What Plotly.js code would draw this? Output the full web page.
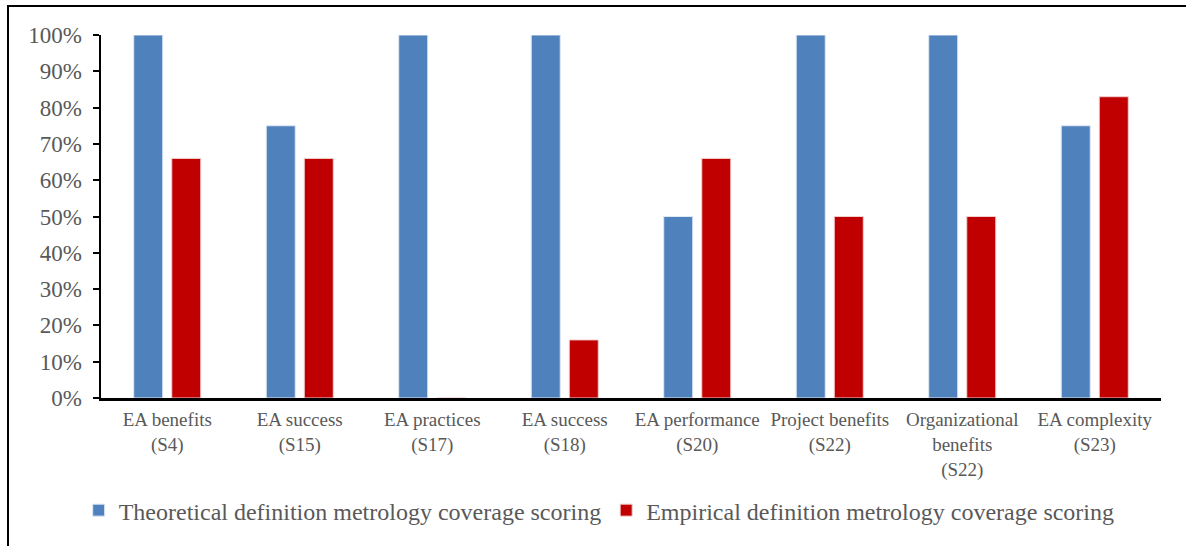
<!DOCTYPE html>
<html>
<head>
<meta charset="utf-8">
<script src="https://cdn.plot.ly/plotly-3.0.1.min.js"></script>
<style>
html,body{margin:0;padding:0;background:#fff;overflow:hidden;}
#frame{position:absolute;left:7px;top:5px;width:1200px;height:600px;border-left:2px solid #000;border-top:2px solid #000;pointer-events:none;z-index:5;}
#chart{position:absolute;left:0;top:0;width:1186px;height:546px;}
</style>
</head>
<body>
<div id="chart"></div>
<div id="frame"></div>
<script>
const categories = [
  "EA benefits<br>(S4)",
  "EA success<br>(S15)",
  "EA practices<br>(S17)",
  "EA success<br>(S18)",
  "EA performance<br>(S20)",
  "Project benefits<br>(S22)",
  "Organizational<br>benefits<br>(S22)",
  "EA complexity<br>(S23)"
];
const theoretical = [1.00, 0.75, 1.00, 1.00, 0.50, 1.00, 1.00, 0.75];
const empirical = [0.66, 0.66, 0, 0.16, 0.66, 0.50, 0.50, 0.83];
const seriesNames = [
  "Theoretical definition metrology coverage scoring",
  "Empirical definition metrology coverage scoring"
];
const tickVals = [0,0.1,0.2,0.3,0.4,0.5,0.6,0.7,0.8,0.9,1.0];
const tickText = ["0%","10%","20%","30%","40%","50%","60%","70%","80%","90%","100%"];

const font = "Liberation Serif, Times New Roman, serif";
const grey = "#595959";

const traces = [
  {type:"bar", name:seriesNames[0], x:categories, y:theoretical,
   marker:{color:"#4F81BD", line:{color:"#dfe8f3", width:1}}, hoverinfo:"none"},
  {type:"bar", name:seriesNames[1], x:categories, y:empirical,
   marker:{color:"#C00000", line:{color:"#f2d0d0", width:1}}, hoverinfo:"none"}
];

const layout = {
  width:1186, height:546,
  paper_bgcolor:"#fff", plot_bgcolor:"#fff",
  margin:{l:101, r:25, t:35, b:148},
  barmode:"group", bargap:0.426, bargroupgap:0.237,
  font:{family:font, color:grey},
  xaxis:{
    showline:true, linecolor:"#000", linewidth:2.5,
    showgrid:false, zeroline:false, ticks:"",
    tickfont:{family:font, size:19, color:grey},
    tickangle:0, ticklabelstandoff:3
  },
  yaxis:{
    range:[0,1], tickvals:tickVals, ticktext:tickText,
    showline:true, linecolor:"#000", linewidth:2.5,
    ticks:"outside", ticklen:6, tickwidth:2, tickcolor:"#000",
    showgrid:false, zeroline:false, ticklabelstandoff:6,
    tickfont:{family:font, size:23, color:grey}
  },
  showlegend:true,
  legend:{
    orientation:"h", x:0.470, xanchor:"center", y:-0.31, yanchor:"middle",
    font:{family:font, size:24, color:grey},
    itemwidth:30, itemclick:false, traceorder:"normal"
  }
};

Plotly.newPlot("chart", traces, layout, {staticPlot:true, displayModeBar:false});
</script>
</body>
</html>
